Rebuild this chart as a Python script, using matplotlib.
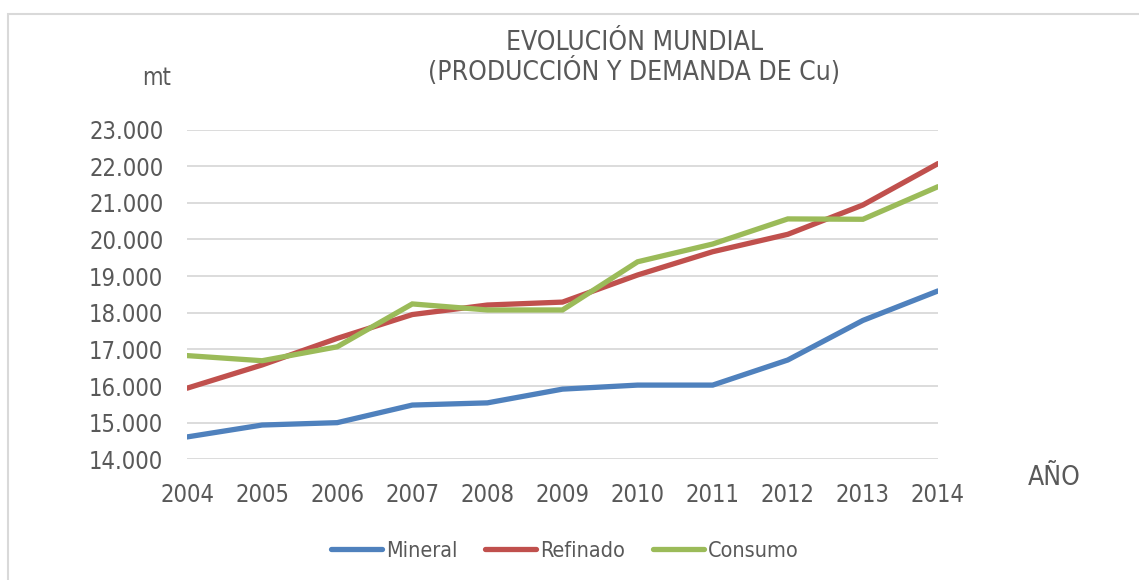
import matplotlib
matplotlib.use('Agg')
import matplotlib.pyplot as plt
from matplotlib.patches import Rectangle
from matplotlib.ticker import FuncFormatter

years = [2004, 2005, 2006, 2007, 2008, 2009, 2010, 2011, 2012, 2013, 2014]
mineral = [14610, 14935, 15000, 15480, 15540, 15915, 16025, 16025, 16710, 17790, 18595]
refinado = [15940, 16575, 17300, 17950, 18210, 18290, 19030, 19665, 20140, 20940, 22070]
consumo = [16830, 16690, 17070, 18240, 18075, 18075, 19390, 19875, 20560, 20550, 21440]

series = [('Mineral', mineral, '#4F81BD'),
          ('Refinado', refinado, '#C0504D'),
          ('Consumo', consumo, '#9BBB59')]

TXT = '#595959'
FS = 17

plt.rcParams['font.family'] = 'DejaVu Sans'
plt.rcParams['font.stretch'] = 'condensed'

fig = plt.figure(figsize=(11.39, 5.80), dpi=100)
W, H = 1139, 580
ax = fig.add_axes([187 / W, 1 - 459.3 / H, (938 - 187) / W, (459.3 - 129.5) / H])

for name, vals, col in series:
    ax.plot(years, vals, color=col, linewidth=3.8, label=name, solid_capstyle='round',
            solid_joinstyle='miter', zorder=3)

ax.set_xlim(2004, 2014)
ax.set_ylim(14000, 23000)
ax.set_xticks(years)
ax.set_yticks(range(14000, 23001, 1000))
ax.yaxis.set_major_formatter(FuncFormatter(lambda v, p: f"{int(v):,}".replace(',', '.')))
ax.tick_params(length=0, labelsize=FS, labelcolor=TXT, pad=17)
ax.grid(axis='y', color='#d9d9d9', linewidth=1.3, zorder=0)
for s in ax.spines.values():
    s.set_visible(False)

# title, two lines
fig.text(635 / W, 1 - 50 / H, 'EVOLUCIÓN MUNDIAL', ha='center', va='baseline',
         fontsize=19, color=TXT)
fig.text(634 / W, 1 - 80 / H, '(PRODUCCIÓN Y DEMANDA DE Cu)', ha='center', va='baseline',
         fontsize=19, color=TXT)
fig.text(157 / W, 1 - 78 / H, 'mt', ha='center', va='center', fontsize=FS, color=TXT)
fig.text(1054 / W, 1 - 478 / H, 'AÑO', ha='center', va='center', fontsize=19, color=TXT)

leg = fig.legend(loc='center', bbox_to_anchor=(565 / W, 1 - 551 / H), ncol=3, frameon=False,
                 fontsize=15.5, handlelength=2.35, handletextpad=0.2, columnspacing=1.3)
for t in leg.get_texts():
    t.set_color(TXT)

fig.patches.append(Rectangle((7.5 / W, -0.05), 1.1, 1 - 13.5 / H + 0.05,
                             transform=fig.transFigure, fill=False,
                             edgecolor='#d9d9d9', linewidth=1.5))

fig.savefig('out.png', dpi=100)
